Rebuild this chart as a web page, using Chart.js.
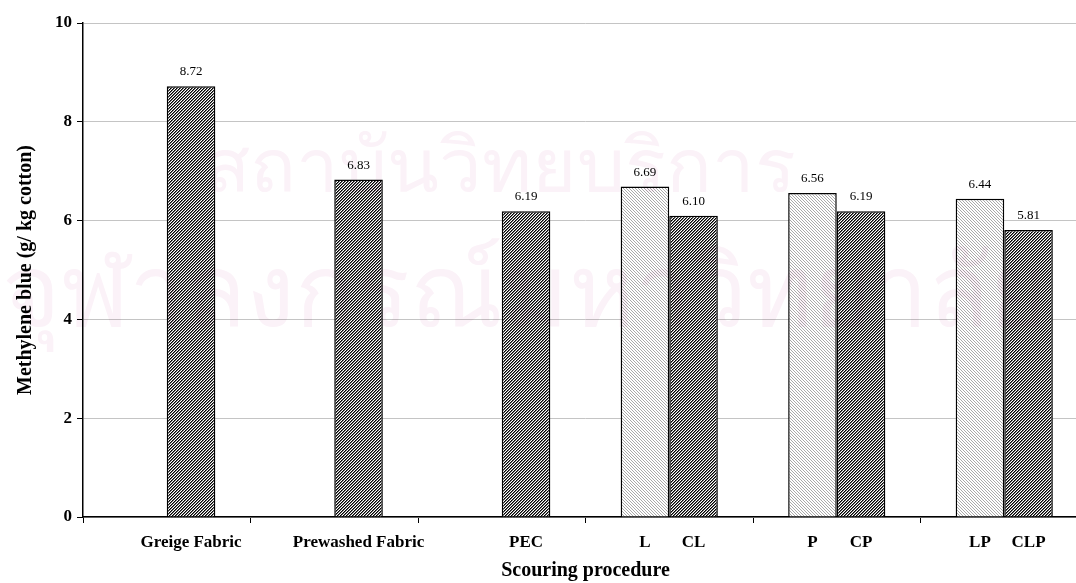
<!DOCTYPE html>
<html>
<head>
<meta charset="utf-8">
<script src="https://cdn.jsdelivr.net/npm/chart.js@4/dist/chart.umd.min.js"></script>
<style>
  html, body { margin: 0; padding: 0; background: #fff; overflow: hidden; }
  #wrap { width: 1100px; height: 583px; }
</style>
</head>
<body>
<div id="wrap"><canvas id="chart" width="1100" height="583"></canvas></div>
<script>
// 六组处理，每组两根柱：左边点状（未加C），右边斜线
const groups = ['Greige Fabric', 'Prewashed Fabric', 'PEC', 'L', 'P', 'LP'];
const dottedNames = ['', '', '', 'L', 'P', 'LP'];
const hatchedNames = ['Greige Fabric', 'Prewashed Fabric', 'PEC', 'CL', 'CP', 'CLP'];
const dottedValues = [null, null, null, 6.69, 6.56, 6.44];
const hatchedValues = [8.72, 6.83, 6.19, 6.10, 6.19, 5.81];
const yTicks = [0, 2, 4, 6, 8, 10];
const watermark = ['สถาบันวิทยบริการ', 'จุฬาลงกรณ์มหาวิทยาลัย'];

const SERIF = "'Liberation Serif', 'Times New Roman', serif";

// 小图块生成填充图案
function makePattern(size, pick) {
  const c = document.createElement('canvas');
  c.width = c.height = size;
  const g = c.getContext('2d');
  const img = g.createImageData(size, size);
  for (let y = 0; y < size; y++) {
    for (let x = 0; x < size; x++) {
      const v = pick(x, y);
      const i = (y * size + x) * 4;
      img.data[i] = img.data[i + 1] = img.data[i + 2] = v;
      img.data[i + 3] = 255;
    }
  }
  g.putImageData(img, 0, 0);
  return g.createPattern(c, 'repeat');
}

// 斜线 "/"：x+y 相同的像素连成一线
const hatch = makePattern(3, (x, y) => {
  const k = (x + y) % 3;
  return k === 0 ? 0 : (k === 1 ? 110 : 255);
});
const dots = makePattern(3, (x, y) => ((x + 2 * y) % 3 === 0 ? 170 : 255));

// 柱顶数值 + 每根柱下方的名称
const barText = {
  id: 'barText',
  afterDatasetsDraw(chart) {
    const ctx = chart.ctx;
    const names = [dottedNames, hatchedNames];
    ctx.save();
    ctx.fillStyle = '#000';
    ctx.textAlign = 'center';
    chart.data.datasets.forEach((ds, di) => {
      const meta = chart.getDatasetMeta(di);
      meta.data.forEach((bar, i) => {
        const v = ds.data[i];
        if (v == null) return;
        ctx.font = '13px ' + SERIF;
        ctx.textBaseline = 'alphabetic';
        ctx.fillText(v.toFixed(2), bar.x, bar.y - 11);
        ctx.font = 'bold 17px ' + SERIF;
        ctx.textBaseline = 'middle';
        ctx.fillText(names[di][i], bar.x, chart.chartArea.bottom + 26);
      });
    });
    ctx.restore();
  }
};

// 底纹水印（正片叠底）
const stamp = {
  id: 'stamp',
  afterDraw(chart) {
    const ctx = chart.ctx;
    ctx.save();
    ctx.globalCompositeOperation = 'multiply';
    ctx.fillStyle = '#fbf2f8';
    ctx.textAlign = 'center';
    ctx.textBaseline = 'middle';
    ctx.font = '76px ' + "'Noto Sans', 'DejaVu Sans', sans-serif";
    ctx.fillText(watermark[0], 500, 170);
    ctx.font = '100px ' + "'Noto Sans', 'DejaVu Sans', sans-serif";
    ctx.fillText(watermark[1], 525, 298);
    ctx.restore();
  }
};

new Chart(document.getElementById('chart'), {
  type: 'bar',
  data: {
    labels: groups,
    datasets: [
      {
        data: dottedValues,
        backgroundColor: dots,
        borderColor: '#000',
        borderWidth: 1.5,
        categoryPercentage: 0.58,
        barPercentage: 1.0
      },
      {
        data: hatchedValues,
        backgroundColor: hatch,
        borderColor: '#000',
        borderWidth: 1.5,
        categoryPercentage: 0.58,
        barPercentage: 1.0
      }
    ]
  },
  options: {
    responsive: false,
    animation: false,
    layout: { padding: { top: 23, right: 12, left: 0, bottom: 0 } },
    plugins: {
      legend: { display: false },
      tooltip: { enabled: false }
    },
    scales: {
      x: {
        grid: {
          offset: true,
          drawOnChartArea: false,
          tickColor: '#000',
          tickLength: 6
        },
        border: { color: '#000', width: 1.5 },
        ticks: { display: false },
        title: {
          display: true,
          text: 'Scouring procedure',
          color: '#000',
          font: { family: SERIF, size: 20, weight: 'bold' },
          padding: { top: 0, bottom: 0 }
        },
        afterFit(scale) { scale.height = 66; }
      },
      y: {
        min: 0,
        max: 10,
        afterBuildTicks(scale) { scale.ticks = yTicks.map(v => ({ value: v })); },
        grid: {
          color: '#c4c4c4',
          lineWidth: 1,
          tickColor: '#000',
          tickLength: 6
        },
        border: { color: '#000', width: 1.5 },
        ticks: {
          color: '#000',
          padding: 5,
          font: { family: SERIF, size: 17, weight: 'bold' }
        },
        title: {
          display: true,
          text: 'Methylene blue (g/ kg cotton)',
          color: '#000',
          font: { family: SERIF, size: 20, weight: 'bold' },
          padding: { top: 14, bottom: 0 }
        },
        afterFit(scale) { scale.width = 83; }
      }
    }
  },
  plugins: [barText, stamp]
});
</script>
</body>
</html>
